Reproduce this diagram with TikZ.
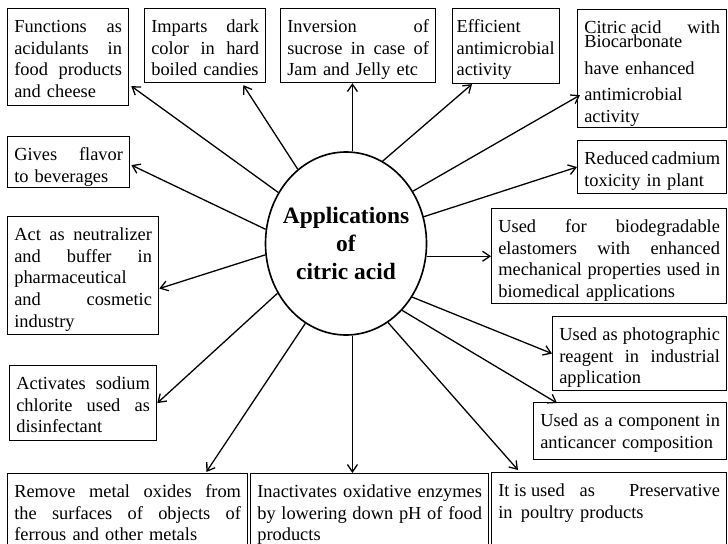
\documentclass[tikz,border=0pt]{standalone}
\usepackage{fontspec}
\setmainfont{Liberation Serif}
\usetikzlibrary{shapes.geometric, arrows.meta, calc}
\newcommand{\jl}[1]{\makebox[\linewidth][s]{\spaceskip=0pt\xspaceskip=0pt\relax #1}}

\begin{document}
\begin{tikzpicture}[x=0.3mm, y=-0.3mm,
            box/.style={draw, rectangle, line width=1.1pt, anchor=north west, align=left,
                inner xsep=2mm, inner ysep=2.6mm, execute at begin node=\strut,
                font=\fontsize{15.7pt}{18.5pt}\selectfont},
            hub/.style={draw, ellipse, line width=1.4pt, minimum width=48.3mm, minimum height=54.9mm, inner sep=0pt},
            hubtext/.style={align=center, font=\fontsize{20pt}{23.8pt}\selectfont\bfseries},
            arr/.style={-{Straight Barb[length=2.2mm, width=3mm]}, line width=1.1pt}]
            \useasboundingbox (0,0) rectangle (728,543);
            \clip (0,0) rectangle (728,543);
            \fill[white] (0,0) rectangle (728,543);

            % centre
            \node[hub] (app) at (346,243.5) {};
            \node[hubtext] (apptext) at (app.center) {Applications\\of\\citric acid};

            % top row
            \node[box, text width=32.3mm, text depth=19.3mm] (b1) at (7,8) {\jl{Functions as}\\\jl{acidulants in}\\\jl{food products}\\and cheese};
            \node[box, text width=32.3mm, text depth=12.4mm] (b2) at (144,8) {\jl{Imparts dark}\\\jl{color in hard}\\boiled candies};
            \node[box, text width=42.5mm, text depth=12.4mm] (b3) at (280,8) {\jl{Inversion of}\\\jl{sucrose in case of}\\Jam and Jelly etc};
            \node[box, inner xsep=1.2mm, text width=29.7mm, text depth=12.7mm] (b4) at (452,8) {Efficient\\antimicrobial\\activity};
            \node[box, text width=40.7mm, text depth=25.6mm] (b5) at (577,9) {\jl{Citric acid\hfill with}\\[-2.3mm]Biocarbonate\\[1.6mm]have enhanced\\[1.3mm]antimicrobial\\activity};

            % left side
            \node[box, text width=32.6mm, text depth=5.5mm] (b7) at (7,136) {\jl{Gives flavor}\\to beverages};
            \node[box, text width=41.3mm, text depth=25.6mm] (b8) at (7,216) {\jl{Act as neutralizer}\\\jl{and buffer in}\\pharmaceutical\\\jl{and cosmetic}\\industry};
            \node[box, text width=40.1mm, text depth=12.7mm] (b11) at (9,365) {\jl{Activates sodium}\\\jl{chlorite used as}\\disinfectant};

            % right side
            \node[box, text width=40.7mm, text depth=6.1mm] (b6) at (577,140) {\jl{Reduced cadmium}\\toxicity in plant};
            \node[box, text width=66.5mm, text depth=18.7mm] (b9) at (491,208) {\jl{Used for biodegradable}\\\jl{elastomers with enhanced}\\\jl{mechanical properties used in}\\biomedical applications};
            \node[box, text width=48.2mm, text depth=12.4mm] (b10) at (552,316) {\jl{Used as photographic}\\\jl{reagent in industrial}\\application};
            \node[box, text width=53.9mm, text depth=7.3mm] (b12) at (533,402) {\jl{Used as a component in}\\anticancer composition};

            % bottom row
            \node[box, text width=68mm, text depth=25mm] (b13) at (7,473) {\jl{Remove metal oxides from}\\\jl{the surfaces of objects of}\\ferrous and other metals};
            \node[box, text width=67.4mm, text depth=25mm] (b14) at (250,473) {\jl{Inactivates oxidative enzymes}\\\jl{by lowering down pH of food}\\products};
            \node[box, text width=66.5mm, text depth=25mm] (b15) at (491,472) {\jl{It is used\hspace{4.5mm}as\hfill Preservative}\\in\hspace{2.5mm}poultry products};

            % arrows
            \draw[arr] (app.143.8) -- ($(b1.south east)+(2,-20)$);
            \draw[arr] (app.123.7) -- ($(b2.south east)+(-23,2)$);
            \draw[arr] (app.86) -- (app.86 |- b3.south);
            \draw[arr] (app.66.9) -- ($(b4.south west)+(20,0)$);
            \draw[arr] (app.38.6) -- ($(b5.south west)+(3,-33)$);
            \draw[arr] (app.19.8) -- (b6.west);
            \draw[arr] (app.351) -- (app.351 -| b9.west);
            \draw[arr] (app.321.4) -- (b10.west);
            \draw[arr] (app.310.1) -- ($(b12.north west)+(24,1)$);
            \draw[arr] (app.298.1) -- ($(b15.north west)+(27,-2)$);
            \draw[arr] (app.274) -- (app.274 |- b14.north);
            \draw[arr] (app.243.3) -- ($(b13.north east)+(-42,-1)$);
            \draw[arr] (app.216.7) -- (b11.east);
            \draw[arr] (app.188.2) -- ($(b8.east)+(0,13)$);
            \draw[arr] (app.170.4) -- ($(b7.east)+(1,3)$);
        \end{tikzpicture}
\end{document}
